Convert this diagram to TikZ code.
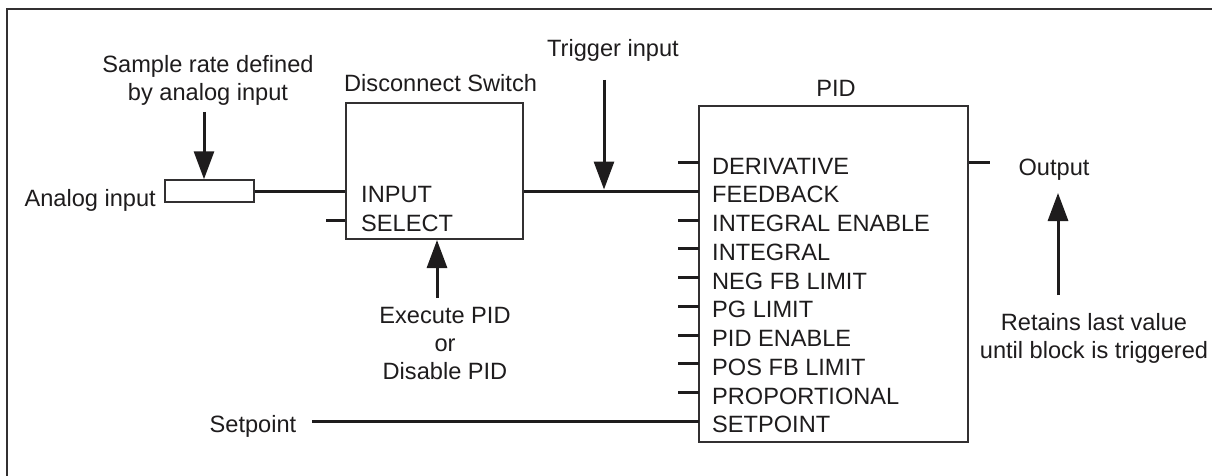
\documentclass[tikz,border=0pt]{standalone}
\usepackage{fontspec}
\setmainfont{Liberation Sans}
\usetikzlibrary{arrows.meta}
\definecolor{ink}{RGB}{30,28,29}
\definecolor{boxc}{RGB}{50,48,49}
\begin{document}
\begin{tikzpicture}[x=1pt,y=-1pt,
  lbl/.style={font=\fontsize{23.6}{28}\selectfont, inner sep=0pt, text=ink},
  wire/.style={line width=3pt, draw=ink},
  boxst/.style={draw=boxc, line width=2pt, inner sep=0pt},
  arr/.style={wire, -{Triangle[length=28pt,width=20pt]}},
  framest/.style={draw=boxc, line width=2pt}]
\useasboundingbox (0,0) rectangle (1212,476);
% frame
\draw[framest] (1212,9) -- (7,9) -- (7,476);
% boxes
\node[boxst, minimum width=89pt, minimum height=22pt] (an) at (209.5,191.25) {};
\node[boxst, minimum width=177pt, minimum height=136pt] (sw) at (434.5,171) {};
\node[boxst, minimum width=269pt, minimum height=336pt] (pid) at (833.5,274) {};
% labels
\node[lbl, anchor=north, align=center] (samp) at (208,55) {Sample rate defined\\by analog input};
\node[lbl, anchor=base east] (anl) at (156,206) {Analog input};
\node[lbl, anchor=base west] (swl) at (344,92) {Disconnect Switch};
\node[lbl, anchor=base west] (inl) at (361,202.75) {INPUT};
\node[lbl, anchor=base west] (sell) at (361,231.5) {SELECT};
\node[lbl, anchor=base] (trl) at (613,57) {Trigger input};
\node[lbl, anchor=base] (pidl) at (836,97) {PID};
\node[lbl, anchor=north, align=center] (exl) at (445,307.5) {Execute PID\\or\\Disable PID};
\node[lbl, anchor=base] (spl) at (253,432) {Setpoint};
\node[lbl, anchor=base] (outl) at (1054,175) {Output};
\node[lbl, anchor=north, align=center] (retl) at (1094,313) {Retains last value\\until block is triggered};
% PID ports
\foreach \i/\t in {0/DERIVATIVE,1/FEEDBACK,2/INTEGRAL ENABLE,3/INTEGRAL,4/NEG FB LIMIT,5/PG LIMIT,6/PID ENABLE,7/POS FB LIMIT,8/PROPORTIONAL,9/SETPOINT}{
  \coordinate (p\i) at (699,{162.5+28.75*\i});
  \coordinate (q\i) at (678,{162.5+28.75*\i});
  \draw[wire] (q\i) -- (p\i);
  \node[lbl, anchor=base west] (pl\i) at (712,{174+28.75*\i}) {\t};
}
% switch select stub
\coordinate (selA) at (326,220);
\draw[wire] (selA) -- (selA -| sw.west);
% connectors
\draw[wire] (an.east) -- (an.east -| sw.west);
\draw[wire] (p1 -| sw.east) -- (p1);
\coordinate (spS) at (312,421.25);
\draw[wire] (spS) -- (p9);
\coordinate (outS) at (990,162.5);
\draw[wire] (outS -| pid.east) -- (outS);
% arrows
\coordinate (sampT) at (204,112);
\draw[arr] (sampT) -- (sampT |- an.north);
\coordinate (trT) at (604,80);
\coordinate (trH) at (604,189.5);
\draw[arr] (trT) -- (trH);
\coordinate (exB) at (437,298);
\draw[arr] (exB) -- (exB |- sw.south);
\coordinate (outB) at (1058,295);
\coordinate (outT) at (1058,193);
\draw[arr] (outB) -- (outT);
\end{tikzpicture}
\end{document}
